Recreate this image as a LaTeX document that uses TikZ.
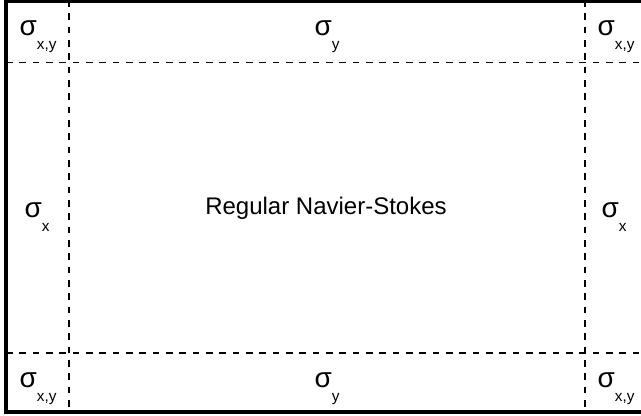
\documentclass[tikz,border=0pt]{standalone}
\usepackage{fontspec}
\setmainfont{Liberation Sans}
\newcommand{\sgm}[1]{{\fontsize{21}{22}\selectfont σ}\raisebox{-10.5pt}{\fontsize{11.5}{12}\selectfont #1}}

\begin{document}
\begin{tikzpicture}[x=0.75pt,y=0.75pt,yscale=-1,xscale=1]
	\useasboundingbox (0,0) rectangle (641,416);
	\tikzset{pml/.style={line width=1.2pt,dash pattern=on 5pt off 5pt}}
	\tikzset{lbl/.style={anchor=base,inner sep=0.75pt,font=\fontsize{18}{20}\selectfont}}
	% zone boundaries
	\draw [pml]   (69,0) -- (69,412) ;
	\draw [pml]   (585,0) -- (585,412) ;
	\draw [pml]   (6,62.5) -- (641,62.5) ;
	\draw [pml]   (6,353) -- (641,353) ;
	% outer wall
	\draw [line width=2.4pt]   (641,1.5) -- (6,1.5) -- (6,412) -- (641,412) ;

	\draw (38,36) node (sxyTL) [lbl]    {\sgm{x,y}};
	\draw (327,36) node (syT) [lbl]    {\sgm{y}};
	\draw (616,36) node (sxyTR) [lbl]    {\sgm{x,y}};
	\draw (37,218) node (sxL) [lbl]    {\sgm{x}};
	\draw (326,215) node (ns) [lbl]    {Regular Navier-Stokes};
	\draw (614,218) node (sxR) [lbl]    {\sgm{x}};
	\draw (38,387) node (sxyBL) [lbl]    {\sgm{x,y}};
	\draw (327,387) node (syB) [lbl]    {\sgm{y}};
	\draw (616,387) node (sxyBR) [lbl]    {\sgm{x,y}};
\end{tikzpicture}
\end{document}
